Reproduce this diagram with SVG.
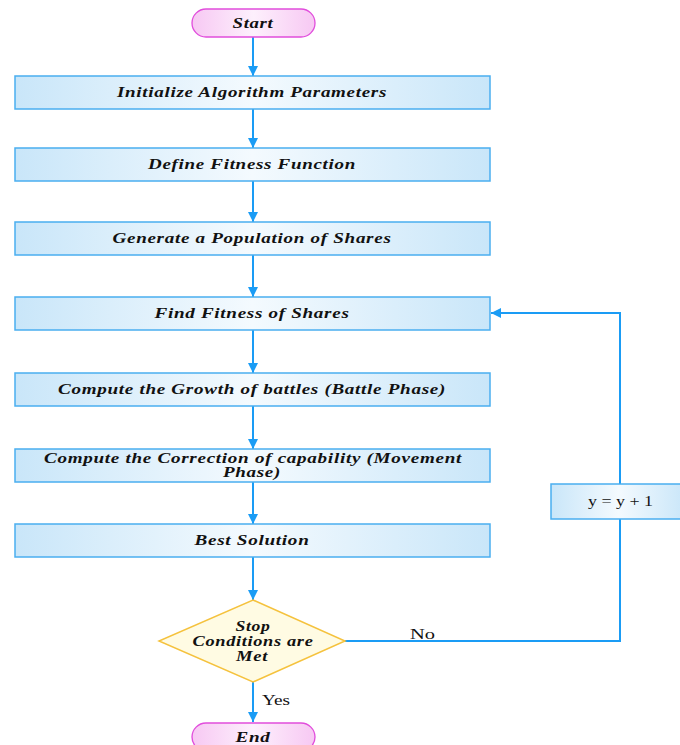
<svg xmlns="http://www.w3.org/2000/svg" width="680" height="745" viewBox="0 0 680 745">
<defs>
<linearGradient id="gBox" x1="0" y1="0" x2="1" y2="0">
<stop offset="0" stop-color="#c9e6f9"/>
<stop offset="0.5" stop-color="#f4fafe"/>
<stop offset="1" stop-color="#c9e6f9"/>
</linearGradient>
<linearGradient id="gPink" x1="0" y1="0" x2="1" y2="0">
<stop offset="0" stop-color="#f7c8f3"/>
<stop offset="0.5" stop-color="#fdf0fc"/>
<stop offset="1" stop-color="#f7c8f3"/>
</linearGradient>
<marker id="arr" viewBox="0 0 10 10" refX="10" refY="5" markerWidth="10" markerHeight="10" markerUnits="userSpaceOnUse" orient="auto">
<path d="M0,0 L10,5 L0,10 z" fill="#1a9cf5"/>
</marker>
</defs>
<style>
.box{fill:url(#gBox);stroke:#4aaef0;stroke-width:1.5}
.term{fill:url(#gPink);stroke:#e14ddc;stroke-width:1.3}
.dec{fill:#fffbe3;stroke:#f5c23d;stroke-width:1.5}
.t{font-family:"Liberation Serif","Times New Roman",serif;font-size:14px;font-weight:bold;font-style:italic;fill:#111;text-anchor:middle;letter-spacing:0.5px}
.n{font-family:"Liberation Serif","Times New Roman",serif;font-size:15px;fill:#111}
.c{fill:none;stroke:#1a9cf5;stroke-width:2}
</style>
<rect width="680" height="745" fill="#fff"/>
<g id="connectors">
<line class="c" x1="253" y1="37" x2="253" y2="76" marker-end="url(#arr)"/>
<line class="c" x1="253" y1="109" x2="253" y2="148" marker-end="url(#arr)"/>
<line class="c" x1="253" y1="181" x2="253" y2="222" marker-end="url(#arr)"/>
<line class="c" x1="253" y1="255" x2="253" y2="297" marker-end="url(#arr)"/>
<line class="c" x1="253" y1="330" x2="253" y2="373" marker-end="url(#arr)"/>
<line class="c" x1="253" y1="406" x2="253" y2="449" marker-end="url(#arr)"/>
<line class="c" x1="253" y1="482" x2="253" y2="524" marker-end="url(#arr)"/>
<line class="c" x1="253" y1="557" x2="253" y2="600" marker-end="url(#arr)"/>
<line class="c" x1="253" y1="682" x2="253" y2="722" marker-end="url(#arr)"/>
<path class="c" d="M345,641 H620 V519"/>
<path class="c" d="M620,484 V313 H491" marker-end="url(#arr)"/>
<text class="n" x="410" y="639" textLength="25" lengthAdjust="spacingAndGlyphs">No</text>
<text class="n" x="262" y="705" textLength="28" lengthAdjust="spacingAndGlyphs">Yes</text>
</g>
<g id="start">
<rect class="term" x="192" y="9" width="123" height="28" rx="14"/>
<text class="t" x="253" y="28" textLength="41" lengthAdjust="spacingAndGlyphs">Start</text>
</g>
<g id="init">
<rect class="box" x="15" y="76" width="475" height="33"/>
<text class="t" x="252" y="97" textLength="270" lengthAdjust="spacingAndGlyphs">Initialize Algorithm Parameters</text>
</g>
<g id="define">
<rect class="box" x="15" y="148" width="475" height="33"/>
<text class="t" x="252" y="169" textLength="208" lengthAdjust="spacingAndGlyphs">Define Fitness Function</text>
</g>
<g id="generate">
<rect class="box" x="15" y="222" width="475" height="33"/>
<text class="t" x="252" y="243" textLength="279" lengthAdjust="spacingAndGlyphs">Generate a Population of Shares</text>
</g>
<g id="find">
<rect class="box" x="15" y="297" width="475" height="33"/>
<text class="t" x="252" y="318" textLength="195" lengthAdjust="spacingAndGlyphs">Find Fitness of Shares</text>
</g>
<g id="growth">
<rect class="box" x="15" y="373" width="475" height="33"/>
<text class="t" x="252" y="394" textLength="388" lengthAdjust="spacingAndGlyphs">Compute the Growth of battles (Battle Phase)</text>
</g>
<g id="correction">
<rect class="box" x="15" y="449" width="475" height="33"/>
<text class="t" x="253" y="463" textLength="418" lengthAdjust="spacingAndGlyphs">Compute the Correction of capability (Movement</text>
<text class="t" x="252" y="477" textLength="58" lengthAdjust="spacingAndGlyphs">Phase)</text>
</g>
<g id="best">
<rect class="box" x="15" y="524" width="475" height="33"/>
<text class="t" x="252" y="545" textLength="115" lengthAdjust="spacingAndGlyphs">Best Solution</text>
</g>
<g id="stop">
<polygon class="dec" points="253,600 345,641 253,682 159,641"/>
<text class="t" x="253" y="631" textLength="35" lengthAdjust="spacingAndGlyphs">Stop</text>
<text class="t" x="253" y="646" textLength="121" lengthAdjust="spacingAndGlyphs">Conditions are</text>
<text class="t" x="252" y="661" textLength="32" lengthAdjust="spacingAndGlyphs">Met</text>
</g>
<g id="incr">
<rect class="box" x="551" y="484" width="135" height="35"/>
<text class="n" x="588" y="506" textLength="65" lengthAdjust="spacingAndGlyphs">y = y + 1</text>
</g>
<g id="end">
<rect class="term" x="192" y="723" width="123" height="28" rx="14"/>
<text class="t" x="253" y="742" textLength="35" lengthAdjust="spacingAndGlyphs">End</text>
</g>
</svg>
